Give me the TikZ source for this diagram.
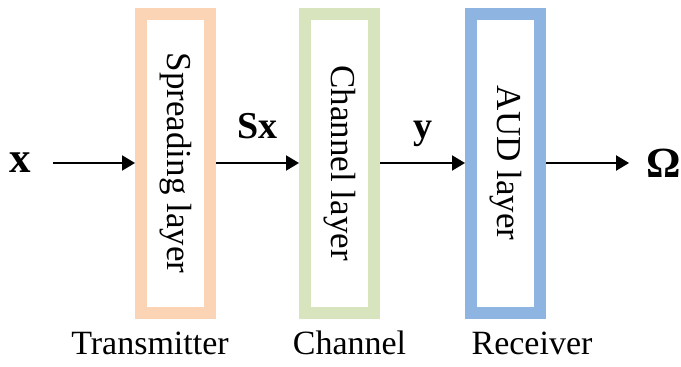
\documentclass[tikz,border=0pt]{standalone}
\usepackage{fontspec}
\setmainfont{Liberation Serif}
\usetikzlibrary{arrows.meta,positioning}
\definecolor{spreadcol}{RGB}{250,212,180}
\definecolor{chancol}{RGB}{216,228,190}
\definecolor{audcol}{RGB}{142,180,226}

\begin{document}
\begin{tikzpicture}[x=0.5pt,y=-0.5pt,->,>={Triangle[length=6.5pt,width=7.5pt]},line width=1pt,
  layer node/.style={draw,line width=6pt,rotate=-90,minimum width=149.5pt,minimum height=34.5pt,inner sep=0pt,font=\fontsize{17.5}{20}\selectfont},
  sig node/.style={font=\bfseries\fontsize{21.5}{24}\selectfont},
  part node/.style={anchor=base,font=\fontsize{17}{20}\selectfont}]
    \useasboundingbox (0,0) rectangle (681,366);
    \node[layer node,draw=spreadcol] (spread) at (175.5,163) {Spreading layer};
    \node[layer node,draw=chancol] (chan) at (339.5,163) {Channel layer};
    \node[layer node,draw=audcol] (aud) at (505.5,163) {AUD layer};
    \node[sig node] (in) at (20,163) {x};
    \node[sig node] (out) at (664,163) {Ω};

    \node[part node] (tx) at (150,354) {Transmitter};
    \node[part node] (ch) at (349.5,354) {Channel};
    \node[part node] (rx) at (532,354) {Receiver};

    \path[every node/.style={font=\bfseries\fontsize{19}{22}\selectfont,inner sep=0pt,text depth=0pt,above=12pt}]
    (in) edge[shorten <=7.5pt] (spread)
    (spread) edge node {Sx} (chan)
    (chan) edge node {y} (aud)
    (aud) edge[shorten >=5pt] (out);
  \end{tikzpicture}
\end{document}
